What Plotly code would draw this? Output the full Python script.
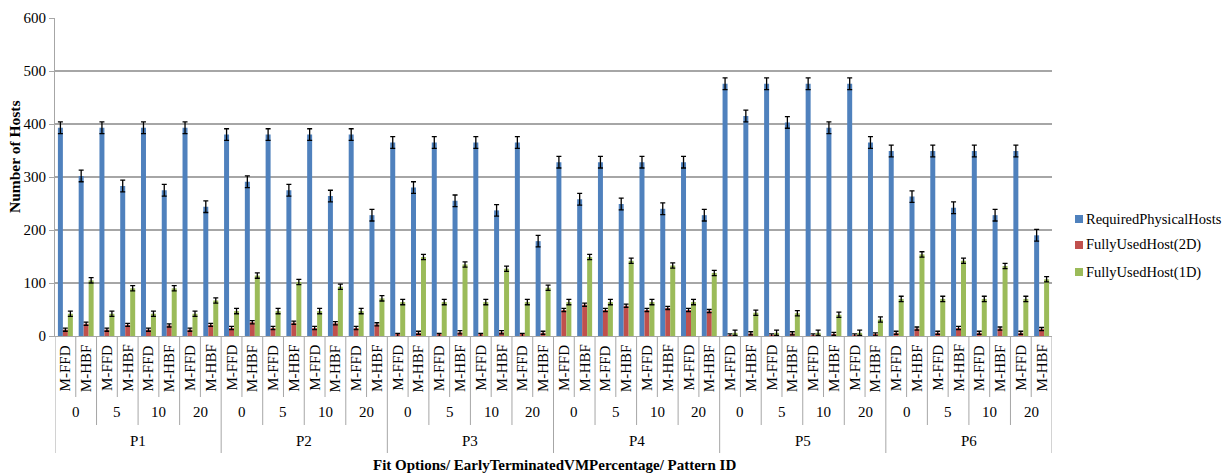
import plotly.graph_objects as go

# Category levels (innermost to outermost)
fit_options = ["M-FFD", "M-HBF"]
percentages = ["0", "5", "10", "20"]
patterns = ["P1", "P2", "P3", "P4", "P5", "P6"]

# Values per category, ordered pattern -> percentage -> fit option
required_hosts = [
    393, 302, 393, 283, 393, 275, 393, 244,   # P1
    380, 291, 380, 275, 380, 264, 380, 228,   # P2
    365, 280, 365, 255, 365, 237, 365, 179,   # P3
    328, 258, 328, 249, 328, 240, 328, 228,   # P4
    476, 415, 476, 403, 476, 393, 476, 365,   # P5
    349, 263, 349, 242, 349, 228, 349, 190,   # P6
]
fully_used_2d = [
    12, 23, 12, 21, 12, 20, 12, 21,
    15, 26, 15, 25, 15, 24, 15, 22,
    2, 6, 2, 7, 2, 7, 2, 6,
    49, 59, 49, 57, 49, 53, 49, 47,
    1, 5, 1, 5, 1, 4, 1, 3,
    6, 14, 6, 15, 6, 14, 6, 13,
]
fully_used_1d = [
    42, 105, 42, 90, 42, 90, 42, 67,
    47, 114, 47, 102, 47, 93, 47, 71,
    64, 149, 64, 135, 64, 127, 64, 91,
    64, 149, 64, 142, 64, 133, 64, 119,
    6, 44, 6, 43, 6, 40, 6, 31,
    70, 154, 70, 142, 70, 132, 70, 107,
]
# Error bar half-widths per series
err_required = 11
err_2d = 3
err_1d = 5

n_fit = len(fit_options)
n_pct = len(percentages)
n_cat = len(patterns) * n_pct * n_fit
xs = list(range(n_cat))

FONT = "Liberation Serif"
GRID = "#A6A6A6"

fig = go.Figure()
series = [
    ("RequiredPhysicalHosts", required_hosts, err_required, "#4F81BD"),
    ("FullyUsedHost(2D)", fully_used_2d, err_2d, "#C0504D"),
    ("FullyUsedHost(1D)", fully_used_1d, err_1d, "#9BBB59"),
]
for name, vals, err, color in series:
    fig.add_trace(go.Bar(
        x=xs, y=vals, name=name,
        marker=dict(color=color, line=dict(width=0)),
        error_y=dict(type="constant", value=err, color="black",
                     thickness=1.3, width=2.5),
    ))

# Plot area in pixels: left 55, right 1052, top 18, bottom 336
PLOT_LEFT, PLOT_RIGHT = 55, 1052
PLOT_TOP, PLOT_BOTTOM = 18, 336
H = PLOT_BOTTOM - PLOT_TOP
W = PLOT_RIGHT - PLOT_LEFT


def py(pixel_y):
    return (PLOT_BOTTOM - pixel_y) / H


def px(pixel_x):
    return (pixel_x - PLOT_LEFT) / W


shapes = []
annotations = []

# Category table beneath the x axis
for b in range(n_cat + 1):
    xb = b - 0.5
    if b % (n_fit * n_pct) == 0:
        bottom = 453
    elif b % n_fit == 0:
        bottom = 425
    else:
        bottom = 397
    shapes.append(dict(type="line", xref="x", yref="paper",
                       x0=xb, x1=xb, y0=0, y1=py(bottom),
                       line=dict(color=GRID, width=1)))

for i in xs:
    annotations.append(dict(
        x=i, y=py(368), xref="x", yref="paper", text=fit_options[i % n_fit],
        textangle=-90, showarrow=False, font=dict(family=FONT, size=15, color="black"),
        xanchor="center", yanchor="middle"))

for g in range(n_cat // n_fit):
    center = g * n_fit + (n_fit - 1) / 2
    annotations.append(dict(
        x=center, y=py(412), xref="x", yref="paper", text=percentages[g % n_pct],
        showarrow=False, font=dict(family=FONT, size=15, color="black"),
        xanchor="center", yanchor="middle"))

span = n_fit * n_pct
for p, label in enumerate(patterns):
    center = p * span + (span - 1) / 2
    annotations.append(dict(
        x=center, y=py(441), xref="x", yref="paper", text=label,
        showarrow=False, font=dict(family=FONT, size=15, color="black"),
        xanchor="center", yanchor="middle"))

annotations.append(dict(
    x=px(554), y=py(465), xref="paper", yref="paper",
    text="<b>Fit Options/ EarlyTerminatedVMPercentage/ Pattern ID</b>",
    showarrow=False, font=dict(family=FONT, size=15, color="black"),
    xanchor="center", yanchor="middle"))

annotations.append(dict(
    x=px(14), y=py(157), xref="paper", yref="paper",
    text="<b>Number of Hosts</b>", textangle=-90,
    showarrow=False, font=dict(family=FONT, size=15.5, color="black"),
    xanchor="center", yanchor="middle"))

# Legend: colour swatch followed by series name
legend_rows = [219, 245, 272]
for (name, _, _, color), row in zip(series, legend_rows):
    shapes.append(dict(type="rect", xref="paper", yref="paper",
                       x0=px(1075), x1=px(1083), y0=py(row + 4), y1=py(row - 4),
                       fillcolor=color, line=dict(width=0)))
    annotations.append(dict(
        x=px(1084), y=py(row), xref="paper", yref="paper", text=name,
        showarrow=False, font=dict(family=FONT, size=14.5, color="black"),
        xanchor="left", yanchor="middle"))

fig.update_layout(
    width=1226, height=475,
    margin=dict(l=PLOT_LEFT, r=1226 - PLOT_RIGHT, t=PLOT_TOP, b=475 - PLOT_BOTTOM,
                autoexpand=False),
    paper_bgcolor="white", plot_bgcolor="white",
    barmode="group", bargap=0.28, bargroupgap=0,
    font=dict(family=FONT, size=14, color="black"),
    showlegend=False,
    shapes=shapes, annotations=annotations,
)
fig.update_xaxes(range=[-0.5, n_cat - 0.5], showticklabels=False, ticks="",
                 showgrid=False, zeroline=False, showline=True,
                 linecolor=GRID, linewidth=1)
fig.update_yaxes(range=[0, 600], dtick=100, showgrid=True, gridcolor=GRID,
                 gridwidth=1.5, zeroline=False, showline=True, linecolor=GRID,
                 linewidth=1, ticks="outside", ticklen=5, tickcolor=GRID,
                 tickfont=dict(family=FONT, size=15, color="black"))

fig.write_html("out.html")
